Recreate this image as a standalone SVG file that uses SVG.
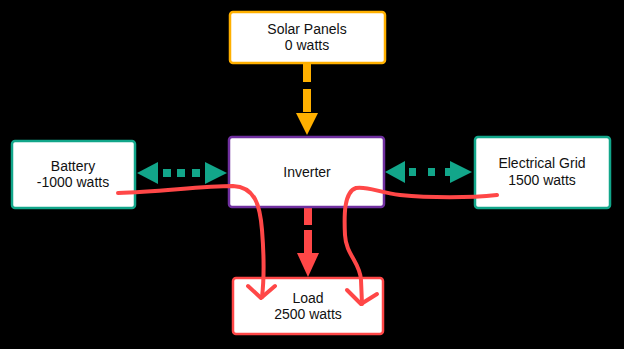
<svg xmlns="http://www.w3.org/2000/svg" width="624" height="349" viewBox="0 0 624 349">
<style>
.box{fill:#fff;stroke-width:2.5}
.t{font-family:"Liberation Sans",Arial,sans-serif;font-size:14px;fill:#111;text-anchor:middle}
.teal{fill:#12A68A}
.red{fill:none;stroke:#FF4747;stroke-width:4;stroke-linecap:round;stroke-linejoin:round}
</style>
<rect width="624" height="349" fill="#000"/>
<g id="connectors">
  <path d="M307,64 V82 M307,89 V112" stroke="#FFB000" stroke-width="8" fill="none"/>
  <polygon points="296,113 318,113 307,135" fill="#FFB000"/>
  <path d="M308,208 V225 M308,230 V253" stroke="#FF4747" stroke-width="8" fill="none"/>
  <polygon points="297,253 319,253 308,277" fill="#FF4747"/>
  <g class="teal">
    <polygon points="137,173 158,162 158,184"/>
    <rect x="163" y="169" width="8" height="8"/>
    <rect x="177" y="169" width="8" height="8"/>
    <rect x="192" y="169" width="8" height="8"/>
    <polygon points="227,173 205,162 205,184"/>
    <polygon points="385,172 405,161 405,183"/>
    <rect x="409" y="168" width="7" height="8"/>
    <rect x="428" y="168" width="7" height="8"/>
    <rect x="445" y="168" width="7" height="8"/>
    <polygon points="472,172 450,161 450,183"/>
  </g>
</g>
<g id="solar"><rect class="box" x="230" y="12" width="155" height="51" rx="3" stroke="#FFB000"/><text class="t" x="307" y="34">Solar Panels</text><text class="t" x="307" y="50">0 watts</text></g>
<g id="battery"><rect class="box" x="12" y="141" width="123" height="67" rx="3" stroke="#12A68A"/><text class="t" x="73" y="171">Battery</text><text class="t" x="73" y="187">-1000 watts</text></g>
<g id="inverter"><rect class="box" x="229" y="137" width="155" height="70" rx="3" stroke="#7030A0"/><text class="t" x="307" y="177">Inverter</text></g>
<g id="grid"><rect class="box" x="475" y="137" width="135" height="71" rx="3" stroke="#12A68A"/><text class="t" x="542" y="168">Electrical Grid</text><text class="t" x="542" y="185">1500 watts</text></g>
<g id="load"><rect class="box" x="233" y="278" width="150" height="56" rx="3" stroke="#FF4747"/><text class="t" x="308" y="303">Load</text><text class="t" x="308" y="319">2500 watts</text></g>
<g id="flows">
  <path class="red" d="M118,193 C160,192 200,186 233,186 C255,187 260,205 262,230 C264,255 264,280 262,297"/>
  <path class="red" d="M248,286 L261,298 L275,286"/>
  <path class="red" d="M497,195 C470,198 430,198 400,195 C380,193 368,186 356,188 C344,192 344,215 345,235 C346,255 360,262 361,280 L362,304"/>
  <path class="red" d="M347,290 L361,304 L377,294"/>
</g>
</svg>
